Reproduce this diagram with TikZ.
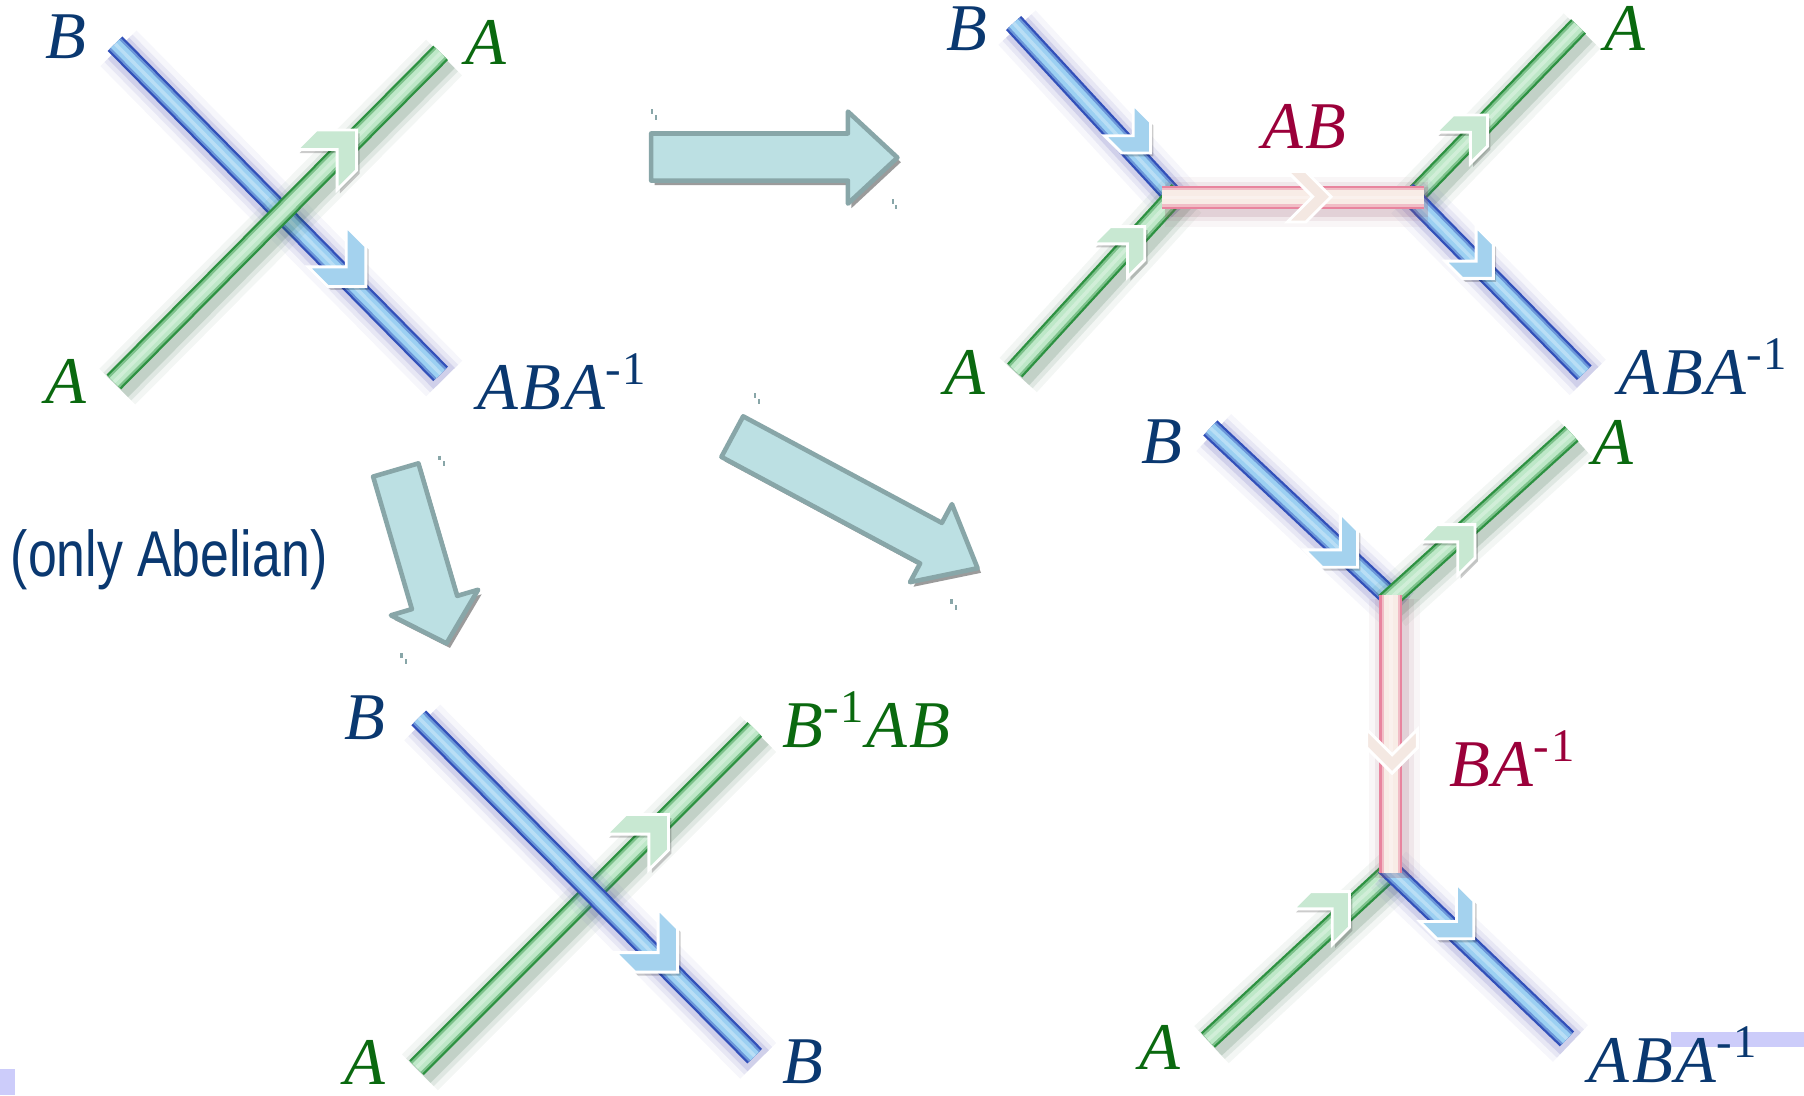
\documentclass[tikz,border=0pt]{standalone}
\usepackage{fontspec}
\newfontfamily\narrowsans[FakeStretch=0.8]{Liberation Sans}
\newfontfamily\labfont[LetterSpace=4]{Liberation Serif}
\definecolor{bEdge}{RGB}{50,80,185}
\definecolor{bCore}{RGB}{156,208,242}
\definecolor{bGlow}{RGB}{80,80,180}
\definecolor{gEdge}{RGB}{45,145,65}
\definecolor{gCore}{RGB}{190,232,200}
\definecolor{gGlow}{RGB}{30,90,50}
\definecolor{pEdge}{RGB}{232,132,158}
\definecolor{pCore}{RGB}{248,236,230}
\definecolor{pGlow}{RGB}{150,90,110}
\definecolor{bChev}{RGB}{164,210,238}
\definecolor{gChev}{RGB}{200,232,210}
\definecolor{pChev}{RGB}{244,232,226}
\definecolor{txtB}{RGB}{10,56,112}
\definecolor{txtG}{RGB}{10,105,15}
\definecolor{txtP}{RGB}{155,0,58}
\definecolor{arrFill}{RGB}{188,224,227}
\definecolor{arrLine}{RGB}{136,166,168}
\definecolor{arrShadow}{RGB}{155,155,155}
\definecolor{lav}{RGB}{204,204,250}
\newcommand\inv{\textsuperscript{\upshape -1}}

% tube between two named coordinates: from, to, glow colour, edge colour, core colour, edge width, core width
\newcommand\tubeline[7]{%
  \begin{scope}[transform canvas={shift={(0.3mm,-0.4mm)}}]
    \draw[glowA=#3] (#1) -- (#2);
    \draw[glowB=#3] (#1) -- (#2);
    \draw[glowC=#3] (#1) -- (#2);
  \end{scope}
  \draw[tubeedge=#4, line width=#6] (#1) -- (#2);
  \draw[tubemid={#4}{#5}, line width=(#6+#7)/2] (#1) -- (#2);
  \draw[tubecore=#5, line width=#7] (#1) -- (#2);
  \draw[shine] (#1) -- (#2);}
% chevron pointing up-right: ox oy lx by w color
\newcommand\chevUR[6]{%
  \begin{scope}[transform canvas={shift={(0.25mm,-0.3mm)}}]
    \fill[chevshadow] (#3+#5,#2) -- (#1,#2) -- (#1,#4-#5) -- (#1-#5,#4) -- (#1-#5,#2+#5) -- (#3,#2+#5) -- cycle;
  \end{scope}
  \path[chev=#6] (#3+#5,#2) -- (#1,#2) -- (#1,#4-#5) -- (#1-#5,#4) -- (#1-#5,#2+#5) -- (#3,#2+#5) -- cycle;}
% chevron pointing down-right: ox oy ty lx w color
\newcommand\chevDR[6]{%
  \begin{scope}[transform canvas={shift={(0.25mm,-0.3mm)}}]
    \fill[chevshadow] (#1-#5,#3) -- (#1,#3+#5) -- (#1,#2) -- (#4+#5,#2) -- (#4,#2-#5) -- (#1-#5,#2-#5) -- cycle;
  \end{scope}
  \path[chev=#6] (#1-#5,#3) -- (#1,#3+#5) -- (#1,#2) -- (#4+#5,#2) -- (#4,#2-#5) -- (#1-#5,#2-#5) -- cycle;}
% chevron pointing right: ox oy a t
\newcommand\chevR[4]{%
  \path[chev=pChev] (#1,#2) -- (#1-#3,#2-#3) -- (#1-#3-#4,#2-#3) -- (#1-#4,#2) -- (#1-#3-#4,#2+#3) -- (#1-#3,#2+#3) -- cycle;}
% chevron pointing down: ox oy a t
\newcommand\chevD[4]{%
  \path[chev=pChev] (#1,#2) -- (#1-#3,#2-#3) -- (#1-#3,#2-#3-#4) -- (#1,#2-#4) -- (#1+#3,#2-#3-#4) -- (#1+#3,#2-#3) -- cycle;}

\begin{document}
\begin{tikzpicture}[x=0.01cm,y=-0.01cm,
  glowA/.style={draw=#1,line width=4.4mm,opacity=.05},
  glowB/.style={draw=#1,line width=3.4mm,opacity=.09},
  glowC/.style={draw=#1,line width=2.6mm,opacity=.15},
  tubeedge/.style={draw=#1},
  tubemid/.style 2 args={draw=#1!45!#2},
  tubecore/.style={draw=#1},
  shine/.style={draw=white,line width=0.3mm,opacity=.3},
  chev/.style={fill=#1,draw=white,line width=0.25mm,line join=miter},
  chevshadow/.style={fill=black,opacity=.2},
  fatarrow/.style={fill=arrFill,draw=arrLine,line width=0.4mm,line join=round},
  fatshadow/.style={fill=arrShadow},
  tick/.style={draw=arrLine,line width=0.2mm},
  lbl/.style={font=\labfont\itshape\fontsize{16.5}{20}\selectfont,inner sep=0pt,anchor=base},
  lblB/.style={lbl,text=txtB},
  lblG/.style={lbl,text=txtG},
  lblP/.style={lbl,text=txtP}]
\fill[white] (0,0) rectangle (1568,952);
\useasboundingbox (0,0) rectangle (1568,952);

% lavender marks
\fill[lav] (0,929) rectangle (13,952);
\fill[lav] (1452,897) rectangle (1568,910);

% ---------- fat arrows ----------
\begin{scope}[shift={(3,4)}]
  \fill[fatshadow] (566,116) -- (737,116) -- (737,97) -- (780,137) -- (737,177) -- (737,157) -- (566,157) -- cycle;
  \fill[fatshadow] (324.3,414.25) -- (363.7,402.75) -- (397.4,517.95) -- (415.6,512.6) -- (388.1,559.2) -- (339.8,534.8) -- (358.0,529.45) -- cycle;
  \fill[fatshadow] (627.05,397.12) -- (645.95,361.88) -- (818.65,454.48) -- (827.4,438.2) -- (849.7,493.9) -- (791.0,506.0) -- (799.75,489.72) -- cycle;
\end{scope}
\draw[fatarrow] (566,116) -- (737,116) -- (737,97) -- (780,137) -- (737,177) -- (737,157) -- (566,157) -- cycle;
\draw[fatarrow] (324.3,414.25) -- (363.7,402.75) -- (397.4,517.95) -- (415.6,512.6) -- (388.1,559.2) -- (339.8,534.8) -- (358.0,529.45) -- cycle;
\draw[fatarrow] (627.05,397.12) -- (645.95,361.88) -- (818.65,454.48) -- (827.4,438.2) -- (849.7,493.9) -- (791.0,506.0) -- (799.75,489.72) -- cycle;
\draw[tick] (567,95) -- ++(0,4) (570,100) -- ++(0,4) (776,173) -- ++(0,4) (779,178) -- ++(0,4);
\draw[tick] (382,396) -- ++(0,4) (386,401) -- ++(0,4) (349,568) -- ++(0,4) (353,573) -- ++(0,4);
\draw[tick] (656,342) -- ++(0,4) (660,347) -- ++(0,4) (827,521) -- ++(0,4) (831,526) -- ++(0,4);

% ---------- panel 1 ----------
\coordinate (p1b0) at (100,38);  \coordinate (p1b1) at (383,325);
\coordinate (p1g0) at (99,332);  \coordinate (p1g1) at (383,46);
\tubeline{p1b0}{p1b1}{bGlow}{bEdge}{bCore}{1.8mm}{1.0mm}
\tubeline{p1g0}{p1g1}{gGlow}{gEdge}{gCore}{1.8mm}{1.0mm}
\chevUR{310}{113}{258}{165}{17}{gChev}
\chevDR{318}{249}{197}{268}{17}{bChev}
\node[lblB] (p1B) at (57,51) {B};
\node[lblG] (p1A) at (422,56.5) {A};
\node[lblG] (p1A2) at (57,351) {A};
\node[lblB] (p1X) at (489,356) {ABA\inv};

% ---------- panel 2 ----------
\coordinate (p2b0) at (881,20);   \coordinate (p2b1) at (1025,176);
\coordinate (p2g0) at (882,322);  \coordinate (p2g1) at (1025,166);
\coordinate (p2L) at (1010,171.5); \coordinate (p2R) at (1238,171.5);
\coordinate (p2g2) at (1222,178); \coordinate (p2g3) at (1372,23);
\coordinate (p2b2) at (1222,166); \coordinate (p2b3) at (1377,324);
\tubeline{p2b0}{p2b1}{bGlow}{bEdge}{bCore}{1.8mm}{1.0mm}
\tubeline{p2g0}{p2g1}{gGlow}{gEdge}{gCore}{1.8mm}{1.0mm}
\tubeline{p2g2}{p2g3}{gGlow}{gEdge}{gCore}{1.8mm}{1.0mm}
\tubeline{p2b2}{p2b3}{bGlow}{bEdge}{bCore}{1.8mm}{1.0mm}
\tubeline{p2L}{p2R}{pGlow}{pEdge}{pCore}{2.0mm}{1.2mm}
\chevDR{1000}{133}{91}{960}{15}{bChev}
\chevUR{995}{197}{950}{241}{15}{gChev}
\chevUR{1293}{100}{1248}{142}{15}{gChev}
\chevDR{1298}{242}{197}{1256}{15}{bChev}
\chevR{1157}{171}{22}{16}
\node[lblB] (p2B) at (840,44) {B};
\node[lblG] (p2A) at (1412,44) {A};
\node[lblP] (p2AB) at (1134,129) {AB};
\node[lblG] (p2A2) at (839,343) {A};
\node[lblB] (p2X) at (1481,343) {ABA\inv};

% ---------- panel 3 ----------
\coordinate (p3b0) at (1052,372);  \coordinate (p3b1) at (1214,524);
\coordinate (p3g0) at (1366,377);  \coordinate (p3g1) at (1204,524);
\coordinate (p3T) at (1209,517);   \coordinate (p3D) at (1209,759);
\coordinate (p3g2) at (1050,904);  \coordinate (p3g3) at (1214,752);
\coordinate (p3b2) at (1204,752);  \coordinate (p3b3) at (1362,903);
\tubeline{p3b0}{p3b1}{bGlow}{bEdge}{bCore}{1.8mm}{1.0mm}
\tubeline{p3g0}{p3g1}{gGlow}{gEdge}{gCore}{1.8mm}{1.0mm}
\tubeline{p3g2}{p3g3}{gGlow}{gEdge}{gCore}{1.8mm}{1.0mm}
\tubeline{p3b2}{p3b3}{bGlow}{bEdge}{bCore}{1.8mm}{1.0mm}
\tubeline{p3T}{p3D}{pGlow}{pEdge}{pCore}{2.0mm}{1.2mm}
\chevDR{1180}{493}{446}{1134}{15}{bChev}
\chevUR{1282}{456}{1234}{500}{15}{gChev}
\chevD{1210}{672}{22}{16}
\chevUR{1173}{775}{1124}{821}{15}{gChev}
\chevDR{1281}{816}{768}{1234}{15}{bChev}
\node[lblB] (p3B) at (1010,403) {B};
\node[lblG] (p3A) at (1402,404) {A};
\node[lblP] (p3BA) at (1315,684) {BA\inv};
\node[lblG] (p3A2) at (1008,930) {A};
\node[lblB] (p3X) at (1455,941) {ABA\inv};

% ---------- panel 4 ----------
\coordinate (p4b0) at (364,624);  \coordinate (p4b1) at (656,918);
\coordinate (p4g0) at (362,928);  \coordinate (p4g1) at (656,634);
\tubeline{p4g0}{p4g1}{gGlow}{gEdge}{gCore}{1.8mm}{1.0mm}
\tubeline{p4b0}{p4b1}{bGlow}{bEdge}{bCore}{1.8mm}{1.0mm}
\chevUR{581}{708}{527}{756}{17}{gChev}
\chevDR{589}{845}{790}{535}{17}{bChev}
\node[lblB] (p4B) at (317,643) {B};
\node[lblG] (p4Y) at (753,650) {B\inv AB};
\node[lblG] (p4A) at (317,943) {A};
\node[lblB] (p4B2) at (698,942) {B};

% ---------- caption ----------
\node[font=\narrowsans\fontsize{16}{19}\selectfont,text=txtB,inner sep=0pt,anchor=base] (abel) at (147,501) {(only Abelian)};
\end{tikzpicture}
\end{document}
